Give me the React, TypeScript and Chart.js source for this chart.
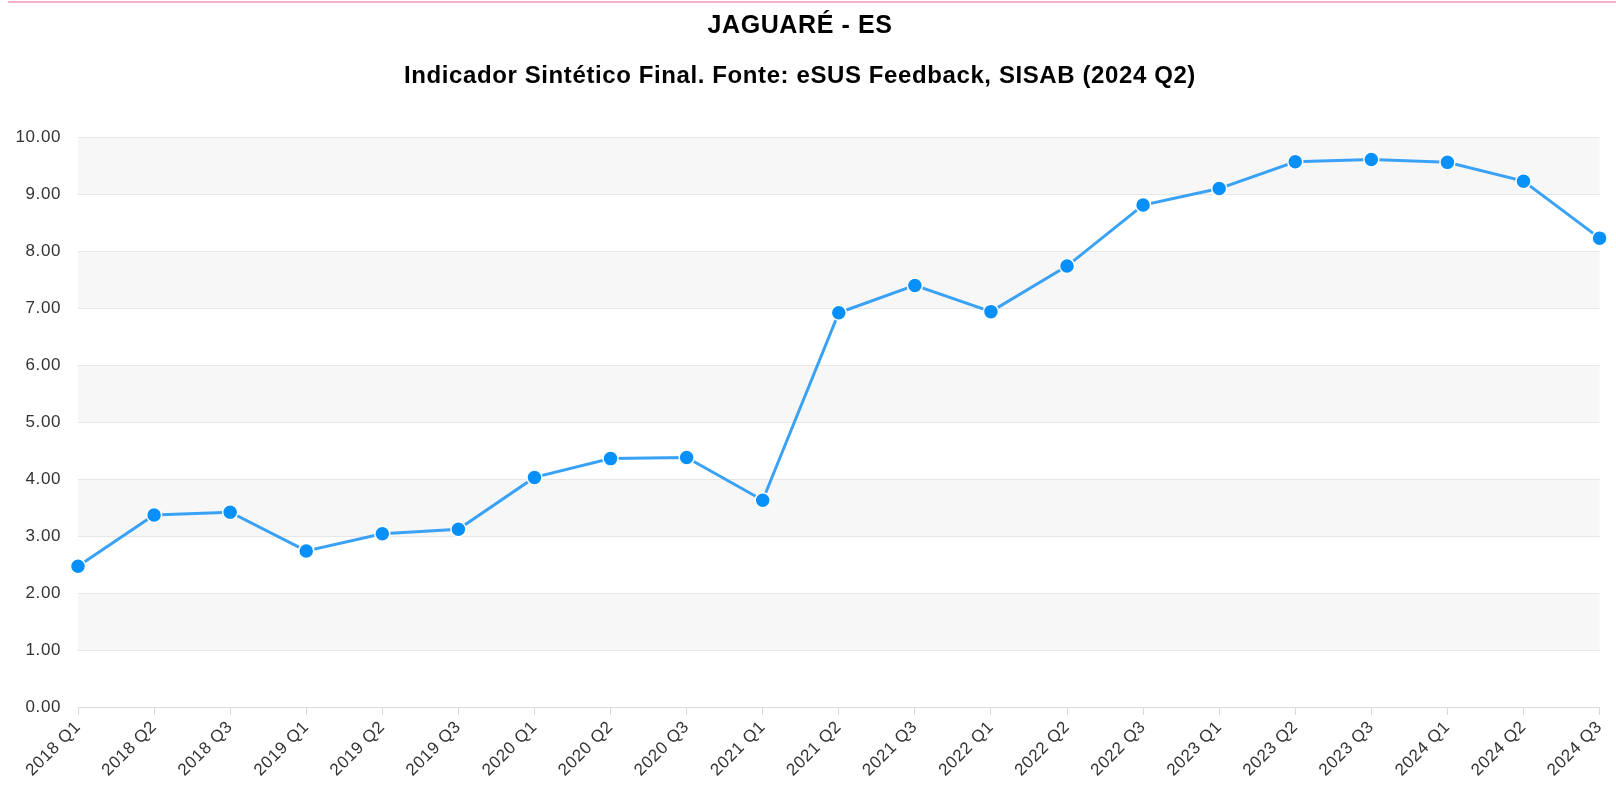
import React, { useEffect, useRef } from "react";
import { Chart, registerables } from "chart.js";

Chart.register(...registerables);

const categories = [
  "2018 Q1", "2018 Q2", "2018 Q3", "2019 Q1", "2019 Q2", "2019 Q3",
  "2020 Q1", "2020 Q2", "2020 Q3", "2021 Q1", "2021 Q2", "2021 Q3",
  "2022 Q1", "2022 Q2", "2022 Q3", "2023 Q1", "2023 Q2", "2023 Q3",
  "2024 Q1", "2024 Q2", "2024 Q3",
];

const indicador = [
  2.47, 3.37, 3.42, 2.74, 3.04, 3.12,
  4.03, 4.36, 4.38, 3.63, 6.92, 7.40,
  6.94, 7.74, 8.81, 9.10, 9.57, 9.61,
  9.56, 9.23, 8.23,
];

const plotBands: [number, number][] = [
  [1, 2], [3, 4], [5, 6], [7, 8], [9, 10],
];

const titleText = "JAGUARÉ - ES";
const subtitleText = "Indicador Sintético Final. Fonte: eSUS Feedback, SISAB (2024 Q2)";

const FONT = "'Liberation Sans', Arial, Helvetica, sans-serif";

const spacingPlugin = {
  id: "spacing",
  beforeUpdate(chart: any) {
    chart.ctx.letterSpacing = "0.6px";
  },
  beforeDraw(chart: any) {
    chart.ctx.letterSpacing = "0.6px";
  },
};

const bandsPlugin = {
  id: "bands",
  beforeDraw(chart: any) {
    const { ctx, chartArea, scales } = chart;
    const y = scales.y;
    ctx.save();
    ctx.fillStyle = "#f7f7f7";
    for (const [a, b] of plotBands) {
      const top = y.getPixelForValue(b);
      const bot = y.getPixelForValue(a);
      ctx.fillRect(chartArea.left, top, chartArea.right - chartArea.left, bot - top);
    }
    ctx.restore();
  },
};

export default function App() {
  const ref = useRef<HTMLCanvasElement>(null);

  useEffect(() => {
    if (!ref.current) return;
    const chart = new Chart(ref.current, {
      type: "line",
      data: {
        labels: categories,
        datasets: [
          {
            label: "Indicador Sintético Final",
            data: indicador,
            borderColor: "#3aa2f6",
            borderWidth: 3,
            backgroundColor: "#0890fa",
            pointBackgroundColor: "#0890fa",
            pointBorderColor: "#ffffff",
            pointBorderWidth: 1.5,
            pointRadius: 7.5,
            tension: 0,
            fill: false,
          },
        ],
      },
      options: {
        animation: false,
        responsive: false,
        devicePixelRatio: 1,
        layout: { padding: { left: 0, right: 16, top: 0, bottom: 0 } },
        plugins: {
          legend: { display: false },
          tooltip: { enabled: false },
          title: {
            display: true,
            text: titleText,
            color: "#000",
            font: { family: FONT, size: 25, weight: "bold" },
            padding: { top: 11, bottom: 21 },
          },
          subtitle: {
            display: true,
            text: subtitleText,
            color: "#000",
            font: { family: FONT, size: 24, weight: "bold" },
            padding: { top: 0, bottom: 46.5 },
          },
        },
        scales: {
          x: {
            type: "category",
            offset: false,
            grid: {
              drawOnChartArea: false,
              drawTicks: true,
              tickLength: 8,
              color: "#d9d9d9",
            },
            border: { display: true, color: "#d9d9d9", width: 1 },
            ticks: {
              autoSkip: false,
              maxRotation: 45,
              minRotation: 45,
              color: "#333",
              padding: 2,
              font: { family: FONT, size: 17 },
            },
            afterFit(s: any) {
              s.height = 78;
            },
          },
          y: {
            min: 0,
            max: 10,
            ticks: {
              stepSize: 1,
              color: "#333",
              padding: 17,
              font: { family: FONT, size: 17 },
              callback: (v: any) => Number(v).toFixed(2),
            },
            grid: { color: "#e6e6e6", drawTicks: false, lineWidth: 1 },
            border: { display: false },
            afterFit(s: any) {
              s.width = 78;
            },
          },
        },
      },
      plugins: [spacingPlugin, bandsPlugin],
    });
    return () => chart.destroy();
  }, []);

  return (
    <>
      <div
        style={{
          position: "absolute",
          top: 1,
          left: 8,
          width: 1608,
          height: 2,
          background: "#f6b4ca",
        }}
      />
      <canvas
        ref={ref}
        width={1616}
        height={785}
        style={{ position: "absolute", top: 0, left: 0, width: 1616, height: 785 }}
      />
    </>
  );
}
